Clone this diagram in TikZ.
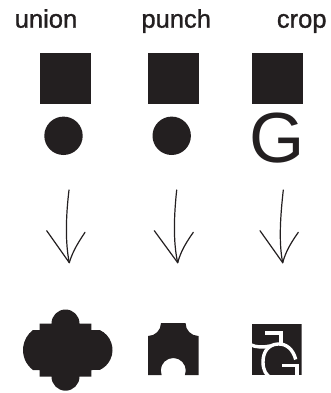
\documentclass[tikz,border=0pt]{standalone}
\usepackage{fontspec}
\setmainfont{Liberation Sans}
\newfontfamily\lblfont[FakeBold=1.2]{Liberation Sans}
\definecolor{ink}{HTML}{231F20}
\begin{document}
\begin{tikzpicture}[x=1pt,y=-1pt,
  lbl/.style={font=\lblfont\fontsize{25.5}{30}\selectfont, text=ink, anchor=base, inner sep=0pt},
  blk/.style={fill=ink, draw=none},
  arr/.style={draw=ink, line width=1.2pt, line cap=round, line join=round},
  wht/.style={draw=white, line width=3.4pt}]
\useasboundingbox (0,0) rectangle (331,393);
% labels
\node[lbl] (lunion) at (46,27.7) {union};
\node[lbl] (lpunch) at (176.2,27.7) {punch};
\node[lbl] (lcrop) at (301.7,27.7) {crop};
% inputs: squares
\fill[blk] (39.5,52.7) rectangle (91,104);
\fill[blk] (147.7,52.7) rectangle (199.2,104);
\fill[blk] (252.3,52.7) rectangle (302.5,104);
% inputs: circles and G
\fill[blk] (63.5,135.8) circle[radius=19.2];
\fill[blk] (171.7,135.8) circle[radius=19.2];
\node[font=\fontsize{71}{80}\selectfont, text=ink, anchor=base, inner sep=0pt] (gin) at (277,162.3) {G};
% arrows
\coordinate (ua) at (69,190); \coordinate (ub) at (69.3,262.7);
\coordinate (pa) at (176.7,190); \coordinate (pb) at (177.7,262.7);
\coordinate (ca) at (283.3,190); \coordinate (cb) at (282.7,262.7);
\draw[arr] (ua) .. controls (66,215) and (65,242) .. (ub);
\draw[arr] (46.7,230.7) -- (ub) .. controls (73,250) and (80,240) .. (85,232.3);
\draw[arr] (pa) .. controls (174,215) and (173,242) .. (pb);
\draw[arr] (154.3,230.7) -- (pb) .. controls (181,250) and (188,240) .. (193.3,232.3);
\draw[arr] (ca) .. controls (280.5,215) and (278.5,242) .. (cb);
\draw[arr] (260,230.7) -- (cb) .. controls (286,250) and (293,240) .. (298.3,232.3);
% union result
\fill[blk] (51.5,323.5) arc[start angle=180,end angle=360,radius=14]
  -- (91.3,323.5) -- (91.3,330) -- (99.7,330)
  arc[start angle=-65.3,end angle=65.3,radius=22]
  -- (91.3,370) -- (91.3,376.7) -- (79.5,376.7)
  arc[start angle=0,end angle=180,radius=14]
  -- (39.7,376.7) -- (39.7,370) -- (33,370)
  arc[start angle=126.87,end angle=233.13,radius=25]
  -- (39.7,330) -- (39.7,323.5) -- cycle;
% punch result
\fill[blk] (148,336) -- (148,375) -- (161.6,375)
  arc[start angle=158.9,end angle=381.1,radius=12.5]
  -- (198.5,375) -- (198.5,336)
  arc[start angle=90,end angle=180,radius=13]
  -- (161,323)
  arc[start angle=0,end angle=90,radius=13] -- cycle;
% crop result
\begin{scope}
\clip (252,323.5) rectangle (301.5,375);
\fill[blk] (252,323.5) rectangle (301.5,375);
\draw[wht] (295.7,359.5) .. controls (293,349) and (286,343.5) .. (278,344)
  .. controls (268,344.5) and (263,352) .. (263,362)
  .. controls (263,370) and (266,376) .. (272,378);
\draw[wht] (282,365.5) -- (297,365.5) -- (297,378);
\draw[wht] (250,344.5) .. controls (256,347.5) and (263,347.5) .. (270,346);
\draw[wht] (265,333) -- (281,333) -- (281,345);
\end{scope}
\end{tikzpicture}
\end{document}
